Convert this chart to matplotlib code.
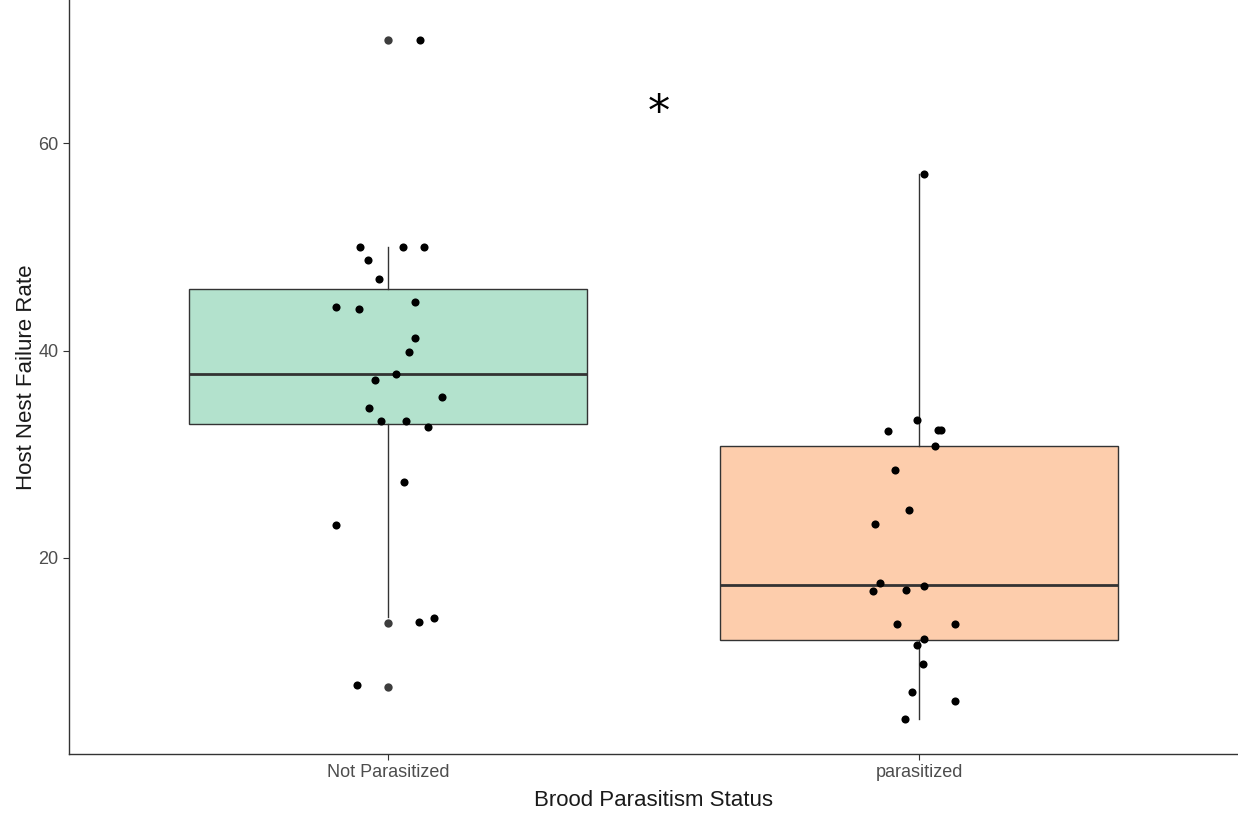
import numpy as np
import matplotlib
matplotlib.use("Agg")
import matplotlib.pyplot as plt

plt.rcParams['font.family'] = ['Liberation Sans', 'DejaVu Sans']

groups = ["Not Parasitized", "parasitized"]
box_colors = ["#B3E2CD", "#FDCDAC"]

# box summary: lower whisker, Q1, median, Q3, upper whisker
whislo = [14.3, 4.5]
q1 = [32.9, 12.1]
med = [37.7, 17.4]
q3 = [45.9, 30.8]
whishi = [50.0, 57.0]
outliers_np = [69.9, 13.7, 7.6]
outliers_p = []

# jittered raw points (horizontal jitter offset, value)
np_jit = [0.061, -0.052, 0.029, 0.068, -0.038, -0.016, -0.097, -0.055, 0.051, 0.051,
          0.039, 0.015, -0.024, 0.102, -0.036, -0.013, 0.034, 0.076, 0.031, -0.097,
          0.059, 0.087, -0.058]
np_vals = [69.9, 50.0, 50.0, 50.0, 48.7, 46.9, 44.2, 44.0, 44.7, 41.2,
           39.9, 37.7, 37.2, 35.5, 34.5, 33.2, 33.2, 32.6, 27.3, 23.2,
           13.8, 14.2, 7.8]
p_jit = [0.009, -0.005, -0.058, 0.036, 0.042, 0.029, -0.046, -0.019, -0.083, -0.074,
         -0.086, -0.024, 0.009, -0.041, 0.068, 0.009, -0.005, 0.007, -0.013, 0.068,
         -0.027]
p_vals = [57.0, 33.3, 32.2, 32.3, 32.3, 30.8, 28.5, 24.6, 23.3, 17.6,
          16.8, 16.9, 17.3, 13.6, 13.6, 12.2, 11.6, 9.8, 7.1, 6.2,
          4.5]

fig = plt.figure(figsize=(12.38, 8.13), dpi=100)
ax = fig.add_axes([69 / 1238, 59 / 813, 1169 / 1238, 754 / 813])

stats = []
for i, g in enumerate(groups):
    stats.append({"label": g, "whislo": whislo[i], "q1": q1[i], "med": med[i],
                  "q3": q3[i], "whishi": whishi[i],
                  "fliers": [outliers_np, outliers_p][i]})

bp = ax.bxp(stats, positions=[1, 2], widths=0.75, patch_artist=True,
            showcaps=False,
            boxprops=dict(edgecolor="#333333", linewidth=1.0),
            whiskerprops=dict(color="#333333", linewidth=1.0),
            medianprops=dict(color="#333333", linewidth=2.0),
            flierprops=dict(marker="o", markerfacecolor="#3d3d3d",
                            markeredgecolor="none", markersize=6))
for patch, c in zip(bp["boxes"], box_colors):
    patch.set_facecolor(c)

ax.scatter(1 + np.array(np_jit), np_vals, s=34, color="black", linewidths=0, zorder=5)
ax.scatter(2 + np.array(p_jit), p_vals, s=34, color="black", linewidths=0, zorder=5)

# significance mark between the groups
ax.text(1.51, 62.9, "*", fontsize=32, ha="center", va="center", color="black",
        family="DejaVu Sans")

ax.set_xlim(0.4, 2.6)
ax.set_ylim(1.1, 73.8)
ax.set_yticks([20, 40, 60])
ax.set_xticks([1, 2])
ax.set_xticklabels(groups)

for s in ["top", "right"]:
    ax.spines[s].set_visible(False)
for s in ["left", "bottom"]:
    ax.spines[s].set_color("#333333")
    ax.spines[s].set_linewidth(1.0)

ax.tick_params(axis="both", colors="#333333", length=4.5, width=0.8,
               labelsize=13, labelcolor="#4d4d4d", pad=3)

ax.set_xlabel("Brood Parasitism Status", fontsize=16, color="#1a1a1a", labelpad=6)
ax.set_ylabel("Host Nest Failure Rate", fontsize=16, color="#1a1a1a", labelpad=1)

fig.savefig("out.png", dpi=100)
